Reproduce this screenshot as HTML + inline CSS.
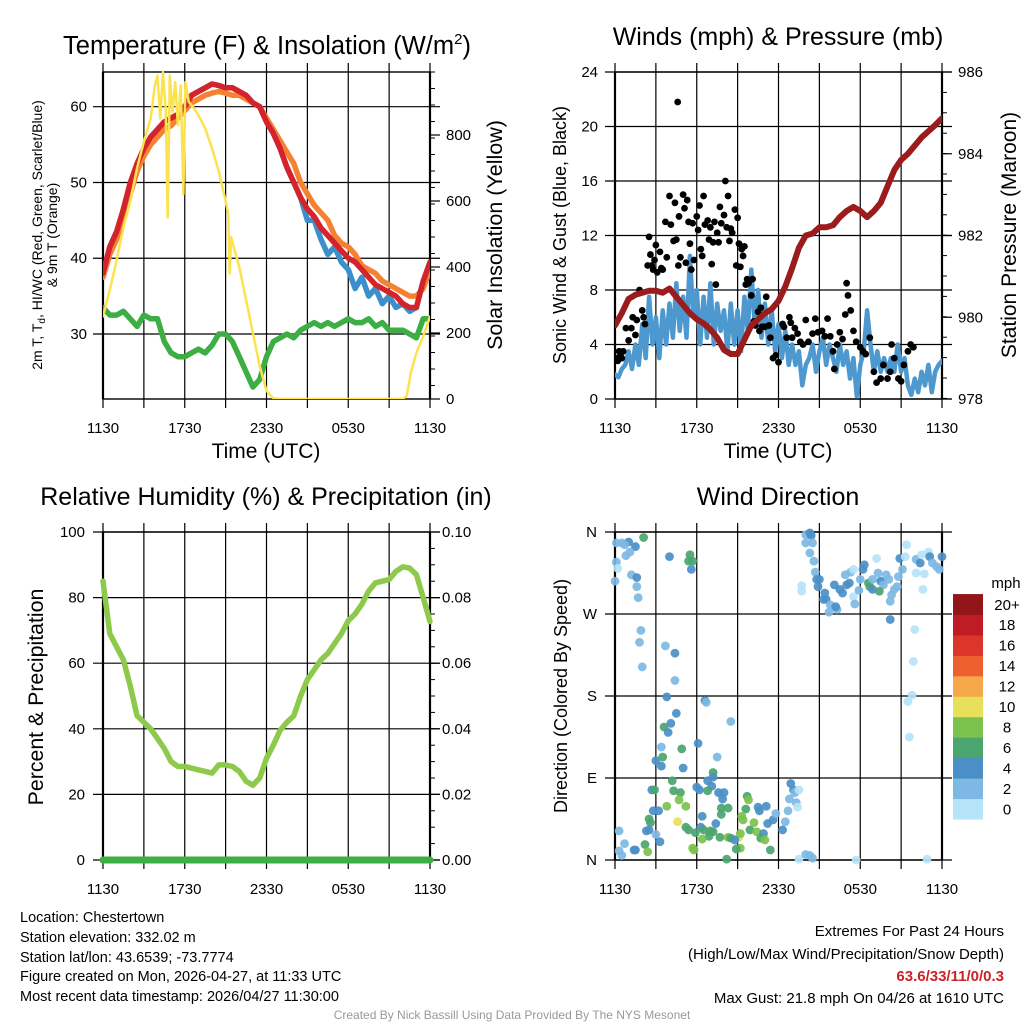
<!DOCTYPE html>
<html><head><meta charset="utf-8"><style>
html,body{margin:0;padding:0;background:#fff;}
svg{display:block;font-family:"Liberation Sans",Arial,sans-serif;}
</style></head><body>
<svg id="c" width="1024" height="1024" viewBox="0 0 1024 1024" xmlns="http://www.w3.org/2000/svg">
<rect width="1024" height="1024" fill="#fff"/>
<g id="p1"></g>
<g id="p2"></g>
<g id="p3"></g>
<g id="p4"></g>
<text x="267" y="54" font-size="25.5" text-anchor="middle">Temperature (F) &amp; Insolation (W/m<tspan dy="-10" font-size="15">2</tspan><tspan dy="10">)</tspan></text>
<text x="778" y="45" font-size="25" text-anchor="middle">Winds (mph) &amp; Pressure (mb)</text>
<text x="266" y="505" font-size="25" text-anchor="middle">Relative Humidity (%) &amp; Precipitation (in)</text>
<text x="778" y="505" font-size="25" text-anchor="middle">Wind Direction</text>
<text x="266" y="458" font-size="21" text-anchor="middle">Time (UTC)</text>
<text x="778" y="458" font-size="21" text-anchor="middle">Time (UTC)</text>
<text transform="translate(42,235) rotate(-90)" font-size="14" text-anchor="middle">2m T, T<tspan dy="3" font-size="10">d</tspan><tspan dy="-3">, HI/WC (Red, Green, Scarlet/Blue)</tspan></text>
<text transform="translate(57,235) rotate(-90)" font-size="14" text-anchor="middle">&amp; 9m T (Orange)</text>
<text transform="translate(502,235) rotate(-90)" font-size="21.5" text-anchor="middle">Solar Insolation (Yellow)</text>
<text transform="translate(566,235) rotate(-90)" font-size="18" text-anchor="middle">Sonic Wind &amp; Gust (Blue, Black)</text>
<text transform="translate(1016,235) rotate(-90)" font-size="21" text-anchor="middle">Station Pressure (Maroon)</text>
<text transform="translate(43,697) rotate(-90)" font-size="21.3" text-anchor="middle">Percent &amp; Precipitation</text>
<text transform="translate(567,696) rotate(-90)" font-size="18" text-anchor="middle">Direction (Colored By Speed)</text>
<g font-size="14.5">
<text x="20" y="922">Location: Chestertown</text>
<text x="20" y="942">Station elevation: 332.02 m</text>
<text x="20" y="962">Station lat/lon: 43.6539; -73.7774</text>
<text x="20" y="981">Figure created on Mon, 2026-04-27, at 11:33 UTC</text>
<text x="20" y="1001">Most recent data timestamp: 2026/04/27 11:30:00</text>
</g>
<g font-size="15" text-anchor="end">
<text x="1004" y="936">Extremes For Past 24 Hours</text>
<text x="1004" y="959">(High/Low/Max Wind/Precipitation/Snow Depth)</text>
<text x="1004" y="981" fill="#cc2229" font-weight="bold">63.6/33/11/0/0.3</text>
<text x="1004" y="1003">Max Gust: 21.8 mph On 04/26 at 1610 UTC</text>
</g>
<text x="512" y="1019" font-size="12" fill="#999" text-anchor="middle">Created By Nick Bassill Using Data Provided By The NYS Mesonet</text>
</svg>
<script>
// ---- Temperature panel data (30-minute steps, hours since 1130 UTC) ----
const tempHours=[0,0.5,1,1.5,2,2.5,3,3.5,4,4.5,5,5.5,6,6.5,7,7.5,8,8.5,9,9.5,10,10.5,11,11.5,12,12.5,13,13.5,14,14.5,15,15.5,16,16.5,17,17.5,18,18.5,19,19.5,20,20.5,21,21.5,22,22.5,23,23.5,24];
const tempRed=[38,41.5,43.5,46.5,50,52.5,54.5,56,57,58,58.5,59,60,61.5,62,62.5,63,62.8,62.5,62.5,62,61.5,60.5,60,58,56.5,54.5,52,50,48,46.5,45.5,44,43,42,41,40,39.5,38.5,37.5,36.5,36,35.5,35,34,33.5,33.5,37,39.5];
const tempOrange=[37.5,40.5,42.5,45.5,48.5,51.5,53.5,55,56,57,57.5,58.5,59.5,60.5,61,61.5,61.8,62,61.8,61.5,61.5,61,60.5,60,58.5,57,55.5,54,52.5,50,48.5,47,46,45,43,42,41.5,40.5,39,38.5,38,37,36.5,36,35.5,35,35,36,38.5];
const tempBlue=[38,41.5,43.5,45.5,49,51.5,54,56,57,58,58.5,59,60,61.5,62,62.5,63,62.8,62.5,62.5,62,61.5,60.5,60,58,56.5,54.5,52,50,48,45,45,42.5,40.5,41.5,39.5,38.5,36,37.5,35,36,34,35,33.5,34,33,33.5,37,38];
const dewGreen=[33.5,32.5,32.5,33,32,31,32.5,32,32,29,27.5,27,27,27.5,28,27.5,28.5,30,30,29,27,25,23,24,27,29,29.5,30,29.5,30.5,31,31.5,31,31.5,31,31.5,32,31.5,31.5,32,31,31.5,30.5,30.5,30.5,30,29.5,32,32];
const solarHours=[0,0.5,1,1.5,2,2.5,3,3.5,3.8,4,4.2,4.4,4.6,4.75,4.9,5.1,5.3,5.5,5.7,5.9,6.05,6.3,6.7,7,7.5,8,8.5,9,9.2,9.3,9.4,10,10.5,11,11.5,12,12.5,13,22,22.3,22.6,23,23.5,24];
const solarVals=[250,330,420,520,600,700,780,850,950,980,850,990,880,550,980,870,960,830,950,620,960,900,880,860,820,760,690,600,560,380,490,400,300,200,100,25,2,0,0,10,80,140,190,250];
const tempTicks=[30,40,50,60];
const solarTicks=[0,200,400,600,800];
const timeTicks=[0,6,12,18,24];
const timeLabels=["1130","1730","2330","0530","1130"];
// ---- Winds panel data ----
const windHours=[];for(let i=0;i<=96;i++)windHours.push(i*0.25);
const windSonic=[1.8,1.6,2.2,2.5,3.5,2.2,4,2.5,5.5, 3,7.5,4,6,3,6.5,4,7, 4.5,8.5,5,7.5,4.5,10.5,6,8, 4,7.5,4.5,8.5,4,7,5,6.5, 3.5,7,4,6.5,3.5,7.5,5,9.5, 5.5,8,4.5,7,4,6.5,3.5,5.5, 3,5,2.5,4,2.5,3.5,1,2.5, 3,4,2,3.5,4.5,2.5,4,3, 2,4,2.5,3.5,1.5,3,0.2,2.5, 3.5,6.5,4,2,3.5,2,3,2, 3,2,4,2,3,1,0.3,1.5, 0.5,2,1,2.5,0.5,2,2.5,2.8];
const gustHours=[0.1,0.2,0.3,0.4,0.5,0.6,0.8,1,1.2,1.3,1.5,1.6,1.8,2,2.1,2.2,2.4,2.5,2.6,2.7,2.8,2.9,3,3.1,3.3,3.4,3.5,3.7,3.8,4,4.1,4.3,4.4,4.5,4.6,4.65,4.7,4.8,5,5.1,5.2,5.3,5.4,5.5,5.6,5.7,5.8,6,6.1,6.2,6.3,6.4,6.5,6.6,6.8,6.9,7,7.1,7.2,7.3,7.4,7.5,7.6,7.7,7.8,8,8.1,8.2,8.3,8.4,8.5,8.6,8.8,8.9,9,9.1,9.2,9.3,9.4,9.5,9.6,9.7,9.8,10,10.1,10.2,10.3,10.5,10.6,10.7,10.8,11,11.1,11.3,11.4,11.6,11.8,12,12.3,12.4,12.6,12.8,12.9,13,13.2,13.4,13.6,13.8,14,14.2,14.5,14.7,14.9,15.2,15.4,15.6,15.8,16,16.1,16.3,16.5,16.7,16.9,17,17.1,17.3,17.5,17.7,18,18.2,18.4,18.7,19,19.2,19.5,19.7,20,20.2,20.3,20.5,20.8,21,21.2,21.5,21.7,21.9];
const gustVals=[3,2.8,3.5,3.2,3,3.5,5.2,4.3,5.2,6,4.7,5.8,8,6.5,6,5.5,9.8,11.9,10.6,9.8,9.5,10.2,11.3,9.3,10.8,9.6,9.5,13,10.4,14.9,12.8,11.6,14.4,11.7,21.8,9.8,13.4,10.4,15,14,10,14.6,13,11.4,9.5,12.9,10.2,13.4,12.4,14.2,11,10.5,14.9,12.8,13.1,11.7,12.6,9.9,11.5,13,8.4,12.2,11.5,14.1,12.9,13.5,16,12.6,14.9,11.6,12.5,12.2,13.9,9.8,13.3,11.4,9.7,11,10.5,11.2,8.4,8.8,8.5,7.6,8.8,5.7,5.4,6.4,5,6.7,5.3,5.3,7.5,5.4,4.5,3,3.2,2.7,5.5,5.3,4.5,6,5.6,4.5,5.2,4.8,4.2,4,5.8,4.2,4.8,5.9,4.9,5,4.6,5.9,4.6,3.5,2.2,4,4.9,4.4,6.2,8.5,7.6,6.5,5,4.2,3.8,3.5,3.3,4.5,2,1.2,1.5,2.5,1.5,2,4,3,1.5,1.3,2.5,3.5,4,3.8];
const pressureVals=[979.8,980.1,980.45,980.55,980.6,980.65,980.65,980.6,980.7,980.5,980.3,980.1,979.95,979.85,979.7,979.5,979.2,979.1,979.1,979.45,979.8,979.95,980.1,980.2,980.4,980.75,981.2,981.7,982.0,982.05,982.2,982.2,982.25,982.45,982.6,982.7,982.6,982.45,982.6,982.8,983.2,983.6,983.85,984.0,984.2,984.4,984.55,984.7,984.87];
const windTicks=[0,4,8,12,16,20,24];
const pressureTicks=[978,980,982,984,986];
// ---- Humidity panel data ----
const rhVals=[85,69,65,61,53,44,42,40,37,34,30,28.5,28.5,28,27.5,27,26.5,29,29,28.5,27,24,22.8,25,31,35,39.5,42,44,50,55,58,61,63,66,69,73,75,78,82,84.5,85,85.5,88,89.4,89,87,80,72.7];
const precipVals=[0,0,0,0,0,0,0,0,0,0,0,0,0,0,0,0,0,0,0,0,0,0,0,0,0,0,0,0,0,0,0,0,0,0,0,0,0,0,0,0,0,0,0,0,0,0,0,0,0];
const rhTicks=[0,20,40,60,80,100];
const precipTickLabels=["0.00","0.02","0.04","0.06","0.08","0.10"];
// ---- Wind direction data ----
const dirHours=[0.1,0.5,1.0,0.7,1.5,1.1,0.8,0.1,0.2,0.0,1.2,1.6,1.6,1.7,2.1,4.0,5.5,5.4,5.7,5.6,1.9,1.8,2.0,3.7,4.4,4.4,3.8,4.5,4.1,3.6,3.9,6.6,6.7,8.5,3.4,4.9,6.1,7.5,3.0,3.5,3.4,5.0,7.2,7.2,4.2,6.0,6.2,6.8,7.1,2.7,2.9,4.3,4.8,6.8,7.6,8.0,7.9,9.7,9.8,3.8,5.2,4.7,2.8,3.2,7.8,8.3,7.8,9.6,10.5,11.1,10.6,6.4,2.5,2.6,4.6,9.3,9.4,10.2,7.4,5.2,5.4,6.3,6.5,5.9,7.0,7.2,7.7,6.9,6.4,8.3,8.5,9.1,9.2,8.8,9.9,10.4,10.9,11.2,11.6,11.8,12.3,12.5,12.7,12.8,13.3,13.4,12.9,13.1,13.2,13.5,10.7,11.0,11.4,9.2,8.9,8.2,5.7,5.8,0.3,0.7,0.3,0.5,1.4,1.5,2.3,2.5,3.0,3.3,2.2,2.4,13.5,14.0,14.3,14.5,17.7,22.9,
14.0,14.3,14.4,14.5,14.0,14.3,14.6,14.7,14.8,15.0,13.7,13.7,14.9,15.4,15.3,15.5,15.8,15.7,16.3,16.2,16.1,16.5,16.7,16.9,17.2,17.3,17.5,17.6,17.9,18.0,18.2,18.3,18.6,18.7,18.9,18.9,19.2,19.3,19.5,19.7,19.9,20.1,20.2,20.3,20.5,20.2,20.7,20.8,20.9,21.1,21.4,21.3,22.1,22.4,22.5,22.6,23.0,23.1,23.3,23.6,23.8,24.0,22.1,22.7,22.0,21.9,21.8,21.5,21.6,17.5,17.0,19.4];
const dirDegrees=[348,348,349,346,344,338,334,327,320,306,313,310,300,288,354,333,335,328,328,319,252,239,212,235,227,197,179,161,150,146,140,175,173,152,124,122,128,113,109,113,103,101,96,91,87,80,77,87,81,77,77,76,74,76,74,74,67,70,66,59,59,66,54,54,57,57,50,56,58,59,54,48,45,41,42,48,44,41,40,36,33,36,33,30,32,31,25,26,23,25,24,25,29,22,33,31,29,40,44,51,33,42,54,67,63,58,84,77,74,77,24,22,11,13,12,1,13,11,32,18,10,5,11,11,32,33,28,20,17,9,1,6,5,2,0,1,
357,359,356,348,348,337,328,316,308,308,301,295,300,293,286,286,280,272,275,278,302,297,293,313,304,316,289,281,296,308,319,324,304,300,297,308,331,315,306,302,313,308,284,291,297,264,300,311,331,319,346,333,330,326,335,297,338,333,326,322,319,333,315,314,253,218,181,174,135,319,302,295];
const dirSpeeds=[2,2,4,2,4,2,2,2,0.5,2,2,4,2,2,6,4,6,6,6,4,2,2,2,2,4,2,4,4,4,6,4,4,2,2,2,6,4,2,4,6,4,4,6,4,6,4,4,4,4,4,6,6,6,6,4,4,4,6,8,8,8,8,4,4,6,6,6,6,4,4,4,4,6,6,10,8,8,8,4,6,6,4,6,6,6,6,6,6,8,8,6,10,8,4,6,8,4,4,4,2,4,2,2,2,2,0.5,4,4,2,0.5,6,8,6,8,6,6,8,8,2,2,2,2,4,4,4,4,2,4,6,8,0.5,2,2,2,0.5,0.5,
2,4,4,2,2,2,2,2,4,4,0.5,0.5,4,4,4,4,2,2,2,4,4,4,4,2,4,2,0.5,2,2,2,4,4,6,6,4,2,0.5,2,4,2,2,2,2,2,2,4,2,2,4,2,0.5,0.5,2,4,0.5,0.5,0.5,4,2,2,2,4,0.5,0.5,0.5,0.5,0.5,0.5,0.5,0.5,4,6];
const dirTickLabels=["N","E","S","W","N"];
const speedBinLabels=["0","2","4","6","8","10","12","14","16","18","20+"];
const speedColors=["#b5e3f8","#7db9e4","#4a8fc6","#4aa56f","#7bc24c","#e6e05b","#f6a94a","#ef6030","#dc3529","#be1d25","#921619"];

const NS="http://www.w3.org/2000/svg";
function mk(parent,tag,attrs){const e=document.createElementNS(NS,tag);for(const k in attrs)e.setAttribute(k,attrs[k]);parent.appendChild(e);return e;}
function scale(d0,d1,r0,r1){return v=>r0+(v-d0)/(d1-d0)*(r1-r0);}
function poly(g,xs,ys,fx,fy,color,w,name){
  const pts=xs.map((t,i)=>fx(t).toFixed(1)+","+fy(ys[i]).toFixed(1)).join(" ");
  const p=mk(g,"polyline",{points:pts,fill:"none",stroke:color,"stroke-width":w,"stroke-linejoin":"round","stroke-linecap":"round"});
  
  
  return p;
}
function frame(g,L,R,T,B,fy,yticks,yLabels,lx,fyR,rticks,rLabels,rx,withRightMinor){
  const fx=scale(0,24,L,R);
  for(let h=0;h<=24;h+=3){
    const l=mk(g,"line",{x1:fx(h),x2:fx(h),y1:T-9,y2:B+9,stroke:"#000","stroke-width":1.2});
    
    
  }
  yticks.forEach((v,i)=>{
    const l=mk(g,"line",{x1:L-10,x2:R+10,y1:fy(v),y2:fy(v),stroke:"#000","stroke-width":1.2});
    
    
    if(yLabels){const t=mk(g,"text",{x:lx,y:fy(v)+5,"font-size":15,"text-anchor":"end"});t.textContent=yLabels[i];
      
      }
  });
  if(rticks){rticks.forEach((v,i)=>{
    mk(g,"line",{x1:R,x2:R+10,y1:fyR(v),y2:fyR(v),stroke:"#000","stroke-width":1.2});
    const t=mk(g,"text",{x:rx,y:fyR(v)+5,"font-size":15});t.textContent=rLabels[i];
    
    
  });}
  if(withRightMinor){for(let y=T;y<=B;y+=withRightMinor){mk(g,"line",{x1:R,x2:R+5,y1:y,y2:y,stroke:"#000","stroke-width":1});}}
  mk(g,"rect",{x:L,y:T,width:R-L,height:B-T,fill:"none",stroke:"#000","stroke-width":1.4});
  mk(g,"line",{x1:L,x2:L,y1:T,y2:B,stroke:"#000","stroke-width":2.2});
  mk(g,"line",{x1:R,x2:R,y1:T,y2:B,stroke:"#000","stroke-width":2.2});
  timeTicks.forEach((h,i)=>{const t=mk(g,"text",{x:fx(h),y:B+34,"font-size":15,"text-anchor":"middle"});t.textContent=timeLabels[i];
    
    });
  return fx;
}
// Panel 1
(function(){
  const g=document.getElementById("p1");
  const L=103,R=430,T=72,B=399;
  const fy=scale(30,60,334,106.7), fyS=scale(0,800,399,135);
  const fx=frame(g,L,R,T,B,fy,tempTicks,tempTicks.map(String),87,fyS,solarTicks,solarTicks.map(String),446,16.5);
  const clip=mk(g,"clipPath",{id:"c1"});mk(clip,"rect",{x:L,y:T-12,width:R-L,height:B-T+12});
  const d=mk(g,"g",{"clip-path":"url(#c1)"});
  poly(d,tempHours,dewGreen,fx,fy,"#3cae44",5.5,"dewpoint-line");
  poly(d,tempHours,tempBlue,fx,fy,"#3d8fcb",5.5,"heat-index-wind-chill-line");
  poly(d,tempHours,tempOrange,fx,fy,"#f58232",5.5,"temp-9m-line");
  poly(d,tempHours,tempRed,fx,fy,"#d4232a",5.5,"temp-2m-line");
  poly(d,solarHours,solarVals,fx,fyS,"#fde24f",2.5,"solar-insolation-line");
})();
// Panel 2
(function(){
  const g=document.getElementById("p2");
  const L=615,R=942,T=72,B=399;
  const fy=scale(0,24,399,72), fyP=scale(978,986,399,72);
  const fx=frame(g,L,R,T,B,fy,windTicks,windTicks.map(String),598,fyP,pressureTicks,pressureTicks.map(String),958,20.4);
  const clip=mk(g,"clipPath",{id:"c2"});mk(clip,"rect",{x:L,y:T,width:R-L,height:B-T+3});
  const d=mk(g,"g",{"clip-path":"url(#c2)"});
  poly(d,windHours,windSonic,fx,fy,"#4e98d0",4.5,"sonic-wind-line");
  gustHours.forEach((h,i)=>{
    const c=mk(d,"circle",{cx:fx(h),cy:fy(gustVals[i]),r:3.4,fill:"#000"});
    
    
  });
  poly(d,tempHours,pressureVals,fx,fyP,"#9b1c1c",6,"pressure-line");
})();
// Panel 3
(function(){
  const g=document.getElementById("p3");
  const L=103,R=430,T=532,B=860;
  const fy=scale(0,100,860,532);
  const fx=frame(g,L,R,T,B,fy,rhTicks,rhTicks.map(String),85,fy,rhTicks,precipTickLabels,442,16.4);
  const clip=mk(g,"clipPath",{id:"c3"});mk(clip,"rect",{x:L-8,y:T,width:R-L+16,height:B-T+8});
  const d=mk(g,"g",{"clip-path":"url(#c3)"});
  poly(d,tempHours,rhVals,fx,fy,"#8dc94b",5.5,"humidity-line");
  const fyPr=scale(0,0.1,860,532);
  poly(d,tempHours,precipVals,fx,fyPr,"#3cb043",7,"precipitation-line");
})();
// Panel 4
(function(){
  const g=document.getElementById("p4");
  const L=615,R=942,T=532,B=860;
  const fy=scale(0,360,860,532);
  const fx=frame(g,L,R,T,B,fy,[0,90,180,270,360],dirTickLabels,597,null,null,null,0,0);
  dirHours.forEach((h,i)=>{
    const bin=Math.min(10,Math.round(dirSpeeds[i]/2));
    const c=mk(g,"circle",{cx:fx(h),cy:fy(dirDegrees[i]),r:4.4,fill:speedColors[bin],"fill-opacity":0.92});
    
    
  });
  const lg=mk(g,"g",{});
  
  
  const t0=mk(lg,"text",{x:1006,y:588,"font-size":15,"text-anchor":"middle"});t0.textContent="mph";
  const bh=20.45;
  speedBinLabels.forEach((lab,i)=>{
    const y=819-(i+1)*bh;
    const r=mk(lg,"rect",{x:953,y:y,width:30,height:bh+0.5,fill:speedColors[i]});
    
    
    const t=mk(lg,"text",{x:1007,y:y+bh/2+5.5,"font-size":15,"text-anchor":"middle"});t.textContent=lab;
    
    
  });
})();
</script>
</body></html>
